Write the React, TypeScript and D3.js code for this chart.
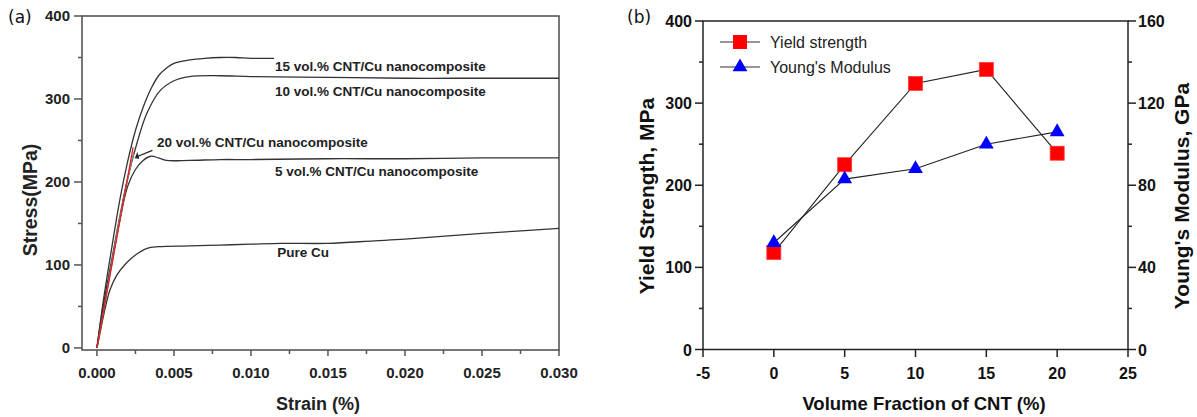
import React from "react";
import * as d3 from "d3";

// ---------- Panel (a) data: stress-strain curves [strain, stress MPa] ----------
const cu15: [number, number][] = [
  [0, 0], [0.0004, 55], [0.001, 125], [0.0015, 180], [0.002, 225], [0.0025, 262],
  [0.003, 290], [0.0035, 312], [0.004, 328], [0.0045, 337], [0.005, 343], [0.006, 347],
  [0.007, 349], [0.008, 350], [0.009, 350], [0.010, 349], [0.0115, 349],
];
const cu10: [number, number][] = [
  [0, 0], [0.0004, 50], [0.001, 110], [0.0015, 160], [0.002, 205], [0.0026, 247],
  [0.00325, 283], [0.0041, 310], [0.005, 322], [0.006, 327], [0.008, 328], [0.010, 327],
  [0.015, 326], [0.020, 325], [0.025, 325], [0.030, 325],
];
const cu20: [number, number][] = [
  [0, 0], [0.0005, 52], [0.001, 106], [0.0015, 158], [0.002, 203], [0.0024, 236],
];
const cu5: [number, number][] = [
  [0, 0], [0.0004, 45], [0.001, 105], [0.0015, 155], [0.002, 195], [0.0025, 215],
  [0.003, 226], [0.0035, 231], [0.004, 229], [0.0045, 226], [0.006, 226], [0.008, 227],
  [0.010, 227], [0.015, 228], [0.020, 228], [0.025, 229], [0.030, 229],
];
const pureCu: [number, number][] = [
  [0, 0], [0.0002, 18], [0.0005, 45], [0.00085, 70], [0.0013, 88], [0.0019, 102],
  [0.0025, 112], [0.00325, 120], [0.004, 122], [0.006, 123], [0.008, 124], [0.010, 125],
  [0.012, 126], [0.015, 126], [0.018, 129], [0.020, 131], [0.025, 138], [0.030, 144],
];
const elasticFit: [number, number][] = [[0, 0], [0.00235, 242]];

const strainTicks = [0, 0.005, 0.01, 0.015, 0.02, 0.025, 0.03];
const strainMinor = [0.0025, 0.0075, 0.0125, 0.0175, 0.0225, 0.0275];
const stressTicks = [0, 100, 200, 300, 400];
const stressMinor = [50, 150, 250, 350];

// curve labels: [text, strain, stress]
const curveLabels: [string, number, number][] = [
  ["15 vol.% CNT/Cu nanocomposite", 0.01156, 334],
  ["10 vol.% CNT/Cu nanocomposite", 0.01156, 304],
  ["20 vol.% CNT/Cu nanocomposite", 0.0039, 242],
  ["5 vol.% CNT/Cu nanocomposite", 0.01156, 207],
  ["Pure Cu", 0.0117, 110],
];

// ---------- Panel (b) data ----------
const volFrac = [0, 5, 10, 15, 20];
const yieldStrength = [118, 225, 324, 341, 239];
const youngsModulus = [52, 83, 88, 100, 106];
const bXTicks = [-5, 0, 5, 10, 15, 20, 25];
const bLeftTicks = [0, 100, 200, 300, 400];
const bLeftMinor = [50, 150, 250, 350];
const bRightTicks = [0, 40, 80, 120, 160];
const bRightMinor = [20, 60, 100, 140];

const BOLD = "'Liberation Sans', Arial, sans-serif";

export default function App() {
  // panel (a) scales
  const xA = d3.scaleLinear().domain([-0.00097, 0.03]).range([82, 559]);
  const yA = d3.scaleLinear().domain([-2.5, 400]).range([350, 16]);
  const lineA = d3
    .line<[number, number]>()
    .x((d) => xA(d[0]))
    .y((d) => yA(d[1]))
    .curve(d3.curveCatmullRom.alpha(0.5));

  // panel (b) scales
  const xB = d3.scaleLinear().domain([-5, 25]).range([703, 1128]);
  const yBL = d3.scaleLinear().domain([0, 400]).range([349.5, 21]);
  const yBR = d3.scaleLinear().domain([0, 160]).range([349.5, 21]);
  const lineB = d3.line<[number, number]>().x((d) => d[0]).y((d) => d[1]);

  const ysPts: [number, number][] = volFrac.map((v, i) => [xB(v), yBL(yieldStrength[i])]);
  const ymPts: [number, number][] = volFrac.map((v, i) => [xB(v), yBR(youngsModulus[i])]);
  const tri = d3.symbol(d3.symbolTriangle, 95)();

  const frameA = "#555";
  const frameB = "#222";

  return (
    <svg width={1197} height={417} style={{ position: "absolute", left: 0, top: 0, background: "#fff" }}>
      <rect x={0} y={0} width={1197} height={417} fill="#fff" />
      {/* ================= Panel (a) ================= */}
      <text x={8} y={23} fontFamily="'DejaVu Sans', sans-serif" fontSize={17} fill="#111">(a)</text>
      <rect x={82} y={16} width={559 - 82} height={350 - 16} fill="none" stroke={frameA} strokeWidth={1.6} />
      {stressTicks.map((t) => (
        <g key={"sa" + t}>
          <line x1={74} x2={82} y1={yA(t)} y2={yA(t)} stroke={frameA} strokeWidth={1.5} />
          <text x={70} y={yA(t) + 5} textAnchor="end" fontFamily={BOLD} fontWeight="bold" fontSize={15} fill="#222">{t}</text>
        </g>
      ))}
      {stressMinor.map((t) => (
        <line key={"sm" + t} x1={78} x2={82} y1={yA(t)} y2={yA(t)} stroke={frameA} strokeWidth={1.5} />
      ))}
      {strainTicks.map((t) => (
        <g key={"xa" + t}>
          <line x1={xA(t)} x2={xA(t)} y1={350} y2={356} stroke={frameA} strokeWidth={1.5} />
          <text x={xA(t)} y={378} textAnchor="middle" fontFamily={BOLD} fontWeight="bold" fontSize={15} fill="#222">{t.toFixed(3)}</text>
        </g>
      ))}
      {strainMinor.map((t) => (
        <line key={"xm" + t} x1={xA(t)} x2={xA(t)} y1={350} y2={354} stroke={frameA} strokeWidth={1.5} />
      ))}
      <text transform={`translate(37,${200}) rotate(-90)`} textAnchor="middle" fontFamily={BOLD} fontWeight="bold" fontSize={19.5} fill="#222">Stress(MPa)</text>
      <text x={318} y={410} textAnchor="middle" fontFamily={BOLD} fontWeight="bold" fontSize={18} fill="#222">Strain (%)</text>

      {[cu10, cu5, pureCu, cu20, cu15].map((c, i) => (
        <path key={"c" + i} d={lineA(c) || ""} fill="none" stroke={i === 3 ? "#888" : "#333"} strokeWidth={1.3} />
      ))}
      <path d={lineA(elasticFit) || ""} fill="none" stroke="#e8201f" strokeWidth={1.3} />

      {curveLabels.map(([t, s, v]) => (
        <text key={t} x={xA(s)} y={yA(v)} fontFamily={BOLD} fontWeight="bold" fontSize={13.5} fill="#222">{t}</text>
      ))}
      {/* arrow from 20 vol.% label to its curve */}
      <line x1={xA(0.0036)} y1={yA(238)} x2={xA(0.00255)} y2={yA(230)} stroke="#222" strokeWidth={1.2} />
      <path
        d={`M${xA(0.00245)},${yA(228.5)} L${xA(0.00275)},${yA(228)} L${xA(0.00263)},${yA(236)} Z`}
        fill="#222"
      />

      {/* ================= Panel (b) ================= */}
      <text x={627} y={23} fontFamily="'DejaVu Sans', sans-serif" fontSize={17} fill="#111">(b)</text>
      <rect x={703} y={21} width={1128 - 703} height={349.5 - 21} fill="none" stroke={frameB} strokeWidth={1.5} />
      {bLeftTicks.map((t) => (
        <g key={"bl" + t}>
          <line x1={695} x2={703} y1={yBL(t)} y2={yBL(t)} stroke={frameB} strokeWidth={1.5} />
          <text x={692} y={yBL(t) + 6} textAnchor="end" fontFamily={BOLD} fontWeight="bold" fontSize={16} fill="#111">{t}</text>
        </g>
      ))}
      {bLeftMinor.map((t) => (
        <line key={"blm" + t} x1={699} x2={703} y1={yBL(t)} y2={yBL(t)} stroke={frameB} strokeWidth={1.5} />
      ))}
      {bRightTicks.map((t) => (
        <g key={"br" + t}>
          <line x1={1128} x2={1136} y1={yBR(t)} y2={yBR(t)} stroke={frameB} strokeWidth={1.5} />
          <text x={1138} y={yBR(t) + 6} textAnchor="start" fontFamily={BOLD} fontWeight="bold" fontSize={16} fill="#111">{t}</text>
        </g>
      ))}
      {bRightMinor.map((t) => (
        <line key={"brm" + t} x1={1128} x2={1132} y1={yBR(t)} y2={yBR(t)} stroke={frameB} strokeWidth={1.5} />
      ))}
      {bXTicks.map((t) => (
        <g key={"bx" + t}>
          <line x1={xB(t)} x2={xB(t)} y1={349.5} y2={357} stroke={frameB} strokeWidth={1.5} />
          <text x={xB(t)} y={379} textAnchor="middle" fontFamily={BOLD} fontWeight="bold" fontSize={16} fill="#111">{t}</text>
        </g>
      ))}
      <text transform={`translate(654,${196}) rotate(-90)`} textAnchor="middle" fontFamily={BOLD} fontWeight="bold" fontSize={21} fill="#111">Yield Strength, MPa</text>
      <text transform={`translate(1189,${196}) rotate(-90)`} textAnchor="middle" fontFamily={BOLD} fontWeight="bold" fontSize={21} fill="#111">Young's Modulus, GPa</text>
      <text x={924} y={410} textAnchor="middle" fontFamily={BOLD} fontWeight="bold" fontSize={18.5} fill="#111">Volume Fraction of CNT (%)</text>

      <path d={lineB(ysPts) || ""} fill="none" stroke="#222" strokeWidth={1.1} />
      <path d={lineB(ymPts) || ""} fill="none" stroke="#222" strokeWidth={1.1} />
      {ysPts.map(([x, y], i) => (
        <rect key={"sq" + i} x={x - 7} y={y - 7} width={14} height={14} fill="#ff0000" stroke="#ff3a3a" strokeWidth={0.8} />
      ))}
      {ymPts.map(([x, y], i) => (
        <path key={"tr" + i} d={tri || ""} transform={`translate(${x},${y})`} fill="#0000ff" />
      ))}

      {/* legend */}
      <line x1={720} x2={760} y1={42} y2={42} stroke="#333" strokeWidth={1.1} />
      <rect x={733} y={35} width={14} height={14} fill="#ff0000" />
      <text x={770} y={48} fontFamily="'Liberation Sans', Arial, sans-serif" fontSize={16} fill="#222">Yield strength</text>
      <line x1={720} x2={760} y1={67} y2={67} stroke="#333" strokeWidth={1.1} />
      <path d={tri || ""} transform={`translate(740,67)`} fill="#0000ff" />
      <text x={770} y={73} fontFamily="'Liberation Sans', Arial, sans-serif" fontSize={16} fill="#222">Young's Modulus</text>
    </svg>
  );
}
